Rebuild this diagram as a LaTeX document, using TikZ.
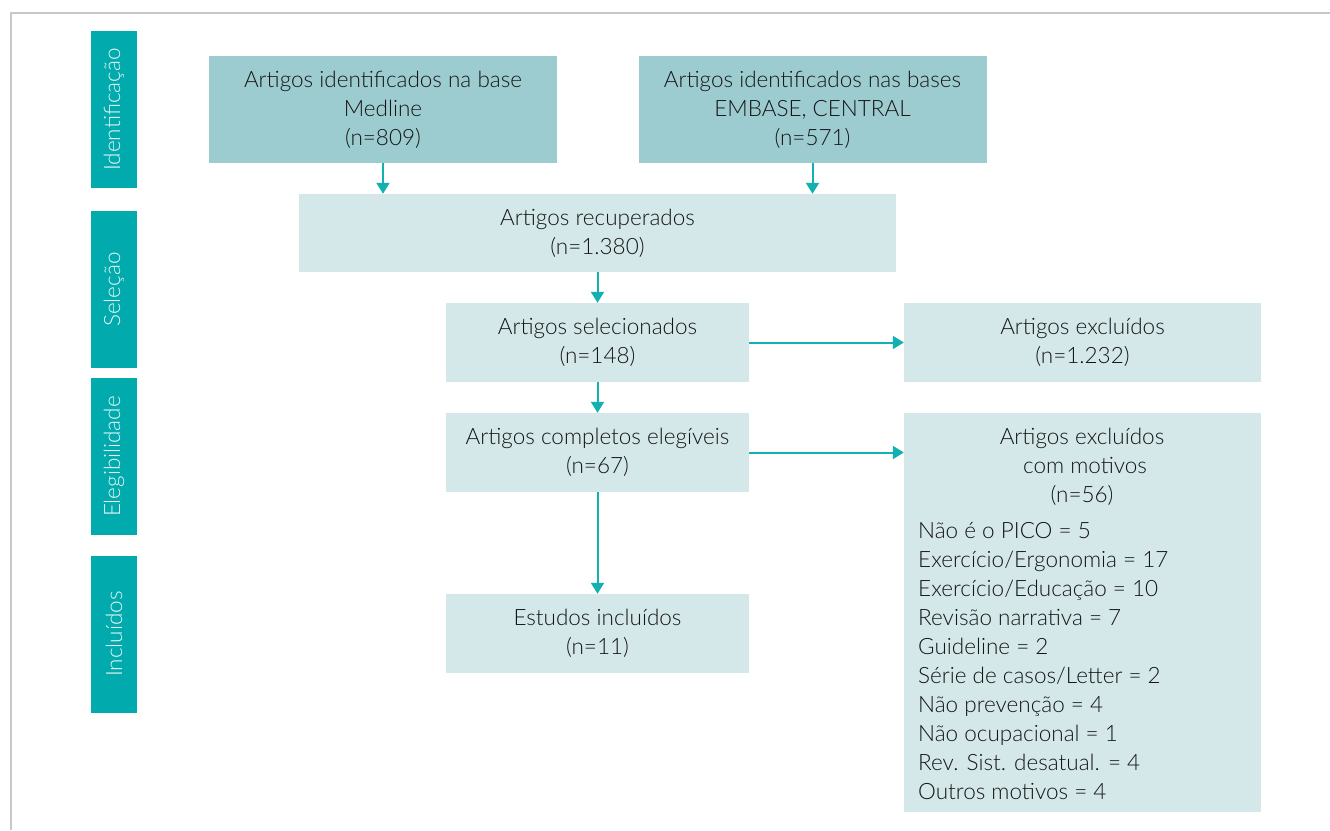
\documentclass[tikz,border=0pt]{standalone}
\usepackage{fontspec}
\setmainfont{Lato}[UprightFont=* Light]
\usetikzlibrary{arrows.meta}
\definecolor{sidec}{HTML}{00AAAD}
\definecolor{boxdark}{HTML}{9DCCD0}
\definecolor{boxlight}{HTML}{D4E8EA}
\definecolor{arrc}{HTML}{12B0B0}
\definecolor{txt}{HTML}{151515}
\definecolor{frame}{HTML}{C8C8C8}
\definecolor{sidetxt}{HTML}{E6F6F6}
\begin{document}
\begin{tikzpicture}[x=1pt,y=-1pt,
  box/.style={rectangle, inner sep=0pt, align=center, text=txt, font=\fontsize{22.5}{29}\selectfont},
  darkbox/.style={box, fill=boxdark},
  lightbox/.style={box, fill=boxlight},
  plain/.style={inner sep=0pt, text=txt, font=\fontsize{22.5}{29}\selectfont},
  arr/.style={draw=arrc, line width=2pt, -{Triangle[width=13pt,length=11pt]}},
  sidebox/.style={rectangle, fill=sidec, inner sep=0pt, minimum height=46pt, minimum width=157pt, text=sidetxt, font=\fontsize{22.5}{26}\selectfont, rotate=90}
]
\useasboundingbox (0,0) rectangle (1330,830);
\draw[frame, line width=1.5pt] (11,830) -- (11,13) -- (1330,13);

% side labels
\node[sidebox] (s1) at (114,109.5) {Identificação};
\node[sidebox] (s2) at (114,289.5) {Seleção};
\node[sidebox] (s3) at (114,456.5) {Elegibilidade};
\node[sidebox] (s4) at (114,634) {Incluídos};

% boxes
\node[darkbox, minimum width=348pt, minimum height=107pt] (med) at (383,109.5) {Artigos identificados na base\\Medline\\(n=809)};
\node[darkbox, minimum width=348pt, minimum height=107pt] (emb) at (812.5,109.5) {Artigos identificados nas bases\\EMBASE, CENTRAL\\(n=571)};
\node[lightbox, minimum width=597pt, minimum height=78pt] (rec) at (597.5,233) {Artigos recuperados\\(n=1.380)};
\node[lightbox, minimum width=303pt, minimum height=79pt] (sel) at (597.5,342.5) {Artigos selecionados\\(n=148)};
\node[lightbox, minimum width=357pt, minimum height=79pt] (exa) at (1082.5,342.5) {Artigos excluídos\\(n=1.232)};
\node[lightbox, minimum width=303pt, minimum height=79pt] (ele) at (597.5,452.5) {Artigos completos elegíveis\\(n=67)};
\node[lightbox, minimum width=357pt, minimum height=399pt] (exb) at (1082.5,612.5) {};
\node[lightbox, minimum width=303pt, minimum height=79pt] (inc) at (597.5,633.5) {Estudos incluídos\\(n=11)};

% texts inside the large box
\node[plain, align=center, anchor=north] (exbt) at (1082,428) {Artigos excluídos\\\ com motivos\\(n=56)};
\node[plain, align=left, anchor=north west] (exbl) at (918,522) {Não é o PICO = 5\\Exercício/Ergonomia = 17\\Exercício/Educação = 10\\Revisão narrativa = 7\\Guideline = 2\\Série de casos/Letter = 2\\Não prevenção = 4\\Não ocupacional = 1\\Rev. Sist. desatual. = 4\\Outros motivos = 4};

% connectors
\draw[arr] (med.south) -- (med.south |- rec.north);
\draw[arr] (emb.south) -- (emb.south |- rec.north);
\draw[arr] (rec.south -| sel.north) -- (sel.north);
\draw[arr] (sel.east) -- (exa.west);
\draw[arr] (sel.south) -- (ele.north);
\draw[arr] (ele.east) -- (ele.east -| exb.west);
\draw[arr] (ele.south) -- (inc.north);
\end{tikzpicture}
\end{document}
